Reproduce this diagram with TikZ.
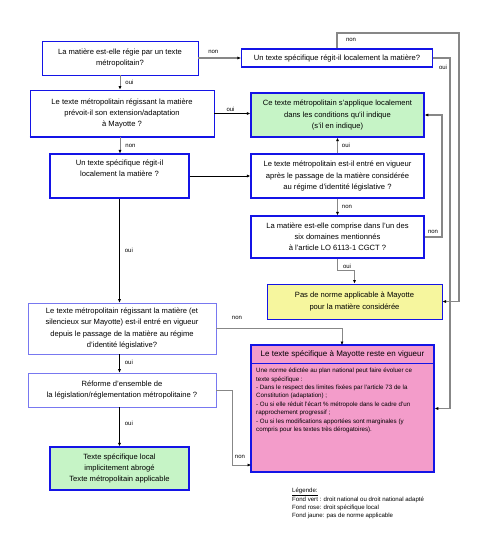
\documentclass[tikz,border=0pt]{standalone}
\usepackage{fontspec}
\setmainfont{Liberation Sans}
\usetikzlibrary{arrows.meta}
\definecolor{bblue}{RGB}{20,20,230}
\definecolor{lav}{RGB}{120,120,240}
\definecolor{gfill}{RGB}{198,244,198}
\definecolor{yfill}{RGB}{246,246,158}
\definecolor{pfill}{RGB}{243,156,202}
\definecolor{lgray}{RGB}{135,135,135}
\tikzset{
  qbox/.style={draw=bblue, line width=0.8pt, inner sep=0pt, align=center, font=\fontsize{7.6}{11.2}\selectfont},
  conn/.style={draw=lgray, line width=0.9pt, -{Latex[black,length=3.5pt,width=3.2pt]}},
  connk/.style={draw=black, line width=0.7pt, -{Latex[black,length=3.5pt,width=3.2pt]}},
  connw/.style={draw=lgray, line width=1.6pt, -{Latex[black,length=3.5pt,width=3.2pt]}},
  lbl/.style={font=\fontsize{6}{6}\selectfont, inner sep=0pt},
}
\begin{document}
\begin{tikzpicture}[x=1pt,y=-1pt]
\useasboundingbox (0,0) rectangle (480,540);
% nodes
\node[qbox, minimum width=156, minimum height=34] (A) at (120,58) {La matière est-elle régie par un texte\\métropolitain?};
\node[qbox, line width=1.1pt, minimum width=191, minimum height=18] (B) at (337,58) {Un texte spécifique régit-il localement la matière?};
\node[qbox, minimum width=184, minimum height=47] (C) at (122,113.5) {Le texte métropolitain régissant la matière\\prévoit-il son extension/adaptation\\à Mayotte ?};
\draw[bblue, line width=2pt] (C.south west) -- (C.south east);
\node[qbox, fill=gfill, line width=1.5pt, minimum width=173, minimum height=44] (D) at (337.5,115) {Ce texte métropolitain s'applique localement\\dans les conditions qu'il indique\\(s'il en indique)};
\node[qbox, line width=1.1pt, minimum width=139, minimum height=44] (E) at (119.5,176) {Un texte spécifique régit-il\\localement la matière ?\\[5pt]};
\node[qbox, line width=1.2pt, minimum width=173, minimum height=44] (F) at (337.5,176) {Le texte métropolitain est-il entré en vigueur\\après le passage de la matière considérée\\au régime d'identité législative ?};
\node[qbox, line width=1.2pt, minimum width=173, minimum height=42] (G) at (337.5,237) {La matière est-elle comprise dans l'un des\\six domaines mentionnés\\à l'article LO 6113-1 CGCT ?};
\node[qbox, fill=yfill, line width=1pt, minimum width=175, minimum height=35] (H) at (354.5,301.5) {Pas de norme applicable à Mayotte\\pour la matière considérée};
\node[qbox, draw=lav, line width=0.6pt, minimum width=188, minimum height=51] (I) at (122,328.5) {Le texte métropolitain régissant la matière (et\\silencieux sur Mayotte) est-il entré en vigueur\\depuis le passage de la matière au régime\\d'identité législative?};
\node[qbox, draw=lav, line width=0.6pt, minimum width=188, minimum height=34] (J) at (122,390) {Réforme d'ensemble de\\la législation/réglementation métropolitaine ?};
\node[qbox, fill=gfill, line width=1.3pt, minimum width=139, minimum height=43] (K) at (119.5,468.5) {Texte spécifique local\\implicitement abrogé\\Texte métropolitain applicable};
\node[draw=bblue, fill=pfill, line width=1.5pt, minimum width=183, minimum height=127, inner sep=0pt] (P) at (342.5,408.5) {};
\draw[bblue, line width=0.6pt] (P.west |- 0,363) -- (P.east |- 0,363);
\node[font=\fontsize{8}{9}\selectfont, inner sep=0pt] (Pt) at (342.5,354) {Le texte spécifique à Mayotte reste en vigueur};
\node[font=\fontsize{6.2}{8.4}\selectfont, align=left, inner sep=0pt, anchor=north west] (Pb) at (256,368) {Une norme édictée au plan national peut faire évoluer ce\\texte spécifique :\\- Dans le respect des limites fixées par l'article 73 de la\\Constitution (adaptation) ;\\- Ou si elle réduit l'écart \% métropole dans le cadre d'un\\rapprochement progressif ;\\- Ou si les modifications apportées sont marginales (y\\compris pour les textes très dérogatoires).};
% legend
\node[font=\fontsize{6.1}{8.4}\selectfont, align=left, inner sep=0pt, anchor=north west] (L) at (292,488) {\underline{Légende:}\\Fond vert : droit national ou droit national adapté\\Fond rose: droit spécifique local\\Fond jaune: pas de norme applicable};
% free corner points
\coordinate (c1) at (459,33);
\coordinate (c2) at (450,58);
\coordinate (c3) at (442,237);
\coordinate (c4) at (342,345);
\coordinate (c5) at (232,465);
\coordinate (c6) at (251,465);
% connectors
\draw[connw] (A.east) -- (B.west) node[lbl, pos=0.35, above=4pt] {non};
\draw[conn] (A.south) -- (A.south |- C.north) node[lbl, pos=0.5, right=5pt] {oui};
\draw[connw] (B.north) |- (c1) |- (H.east);
\node[lbl] at (351,40) {non};
\draw[connw] (B.east) -- (c2) |- (P.east);
\node[lbl] at (443,67) {oui};
\draw[connk] (C.east) -- (C.east -| D.west) node[lbl, pos=0.45, above=2pt] {oui};
\draw[conn] (A.south |- C.south) -- (A.south |- E.north) node[lbl, pos=0.5, right=5pt] {non};
\draw[connk] (E.east) -- (F.west);
\draw[conn] (F.north) -- (D.south) node[lbl, pos=0.5, right=4pt] {oui};
\draw[conn] (F.south) -- (G.north) node[lbl, pos=0.5, right=4pt] {non};
\draw[connw] (G.east) -- (c3) |- (D.east);
\node[lbl] at (433,232) {non};
\draw[conn] (G.south) -- ++(0,12) -| (H.north);
\node[lbl] at (347,266) {oui};
\draw[connk] (E.south) -- (E.south |- I.north) node[lbl, pos=0.5, right=5pt] {oui};
\draw[conn] (I.east) -| (c4);
\node[lbl] at (237,318) {non};
\draw[connk] (E.south |- I.south) -- (E.south |- J.north) node[lbl, pos=0.45, right=5pt] {oui};
\draw[connk] (E.south |- J.south) -- (E.south |- K.north) node[lbl, pos=0.4, right=5pt] {oui};
\draw[conn] (J.east) -| (c5) -- (c6);
\node[lbl] at (240,457) {non};
\end{tikzpicture}
\end{document}
